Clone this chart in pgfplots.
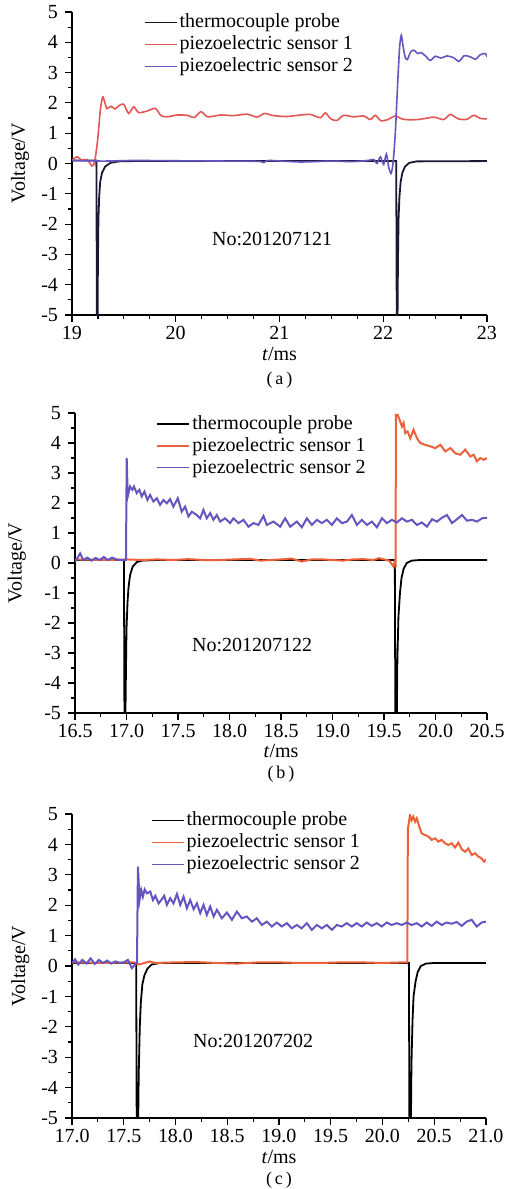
\documentclass[border=0pt]{standalone}
\usepackage{fontspec}
\setmainfont{Liberation Serif}
\usepackage{pgfplots}
\pgfplotsset{compat=1.18}
\definecolor{tcblack}{RGB}{25,25,50}
\definecolor{pzred}{RGB}{226,86,86}
\definecolor{pzorange}{RGB}{236,96,58}
\definecolor{pzblue}{RGB}{100,86,192}
\pgfplotsset{
 myax/.style={
  scale only axis, clip mode=individual,
  axis x line*=bottom, axis y line*=left,
  ymin=-5, ymax=5, ytick={-5,-4,...,5}, yticklabels={-5,-4,-3,-2,-1,0,1,2,3,4,5},
  minor y tick num=1,
  tick align=outside,
  major tick length=3.5pt, minor tick length=2pt,
  every tick/.style={line width=0.6pt, black},
  axis line style={line width=0.7pt},
  tick label style={font=\fontsize{10}{12}\selectfont},
  xticklabel style={inner ysep=1pt, yshift=-1pt},
  label style={font=\fontsize{10}{12}\selectfont, inner sep=0pt},
  ylabel={Voltage/V},
  xlabel={\textit{t}/ms},
  legend style={draw=none, fill=none, anchor=north west, inner sep=0pt,
    font=\fontsize{10}{10}\selectfont, row sep=-1.5pt,
    nodes={inner xsep=1.2pt, inner ysep=2pt}},
  legend image code/.code={\draw[#1, line width=0.6pt] (0pt,0pt) -- (16pt,0pt);},
  legend cell align=left,
  every axis plot/.append style={line width=0.8pt},
 }
}
\begin{document}
\begin{tikzpicture}
\path[use as bounding box] (0,0) rectangle (254pt,-594.5pt);
% ---------------- (a)
\begin{axis}[myax, at={(36pt,-157.5pt)}, anchor=south west,
  width=207.5pt, height=151.5pt,
  xmin=19, xmax=23, xtick={19,20,21,22,23}, xticklabels={19,20,21,22,23},
  minor x tick num=3,
  ylabel style={at={(axis description cs:-0.125,0.5)}, anchor=center},
  xlabel style={at={(axis description cs:0.5,0)}, anchor=center, yshift=-19.5pt},
  legend style={at={(axis cs:19.69,5.08)}},
]
\addplot[tcblack, line width=0.9pt] coordinates {(19,0.1) (19.235,0.1) (19.24,-5) (19.247,-5) (19.25,-3.2) (19.255,-1.8) (19.262,-1.1) (19.272,-0.6) (19.29,-0.3) (19.32,-0.1) (19.37,0.02) (19.45,0.07) (19.6,0.08) (22.125,0.08) (22.13,-5) (22.138,-5) (22.142,-3.2) (22.148,-1.8) (22.156,-1.1) (22.168,-0.6) (22.185,-0.3) (22.21,-0.1) (22.25,0.02) (22.32,0.07) (23,0.08)};
\addlegendentry{thermocouple probe}
\addplot[pzred, smooth, tension=0.4] coordinates {(19.000,0.11) (19.048,0.22) (19.096,0.11) (19.145,0.13) (19.193,-0.08) (19.218,0.05) (19.247,0.77) (19.273,1.76) (19.296,2.20) (19.315,2.03) (19.337,1.81) (19.376,1.89) (19.414,1.80) (19.453,1.91) (19.498,1.96) (19.546,1.65) (19.594,1.87) (19.643,1.68) (19.723,1.73) (19.803,1.82) (19.858,1.58) (19.916,1.54) (20.012,1.60) (20.108,1.59) (20.179,1.52) (20.243,1.71) (20.308,1.54) (20.430,1.60) (20.558,1.58) (20.687,1.63) (20.783,1.53) (20.854,1.65) (20.944,1.58) (21.072,1.55) (21.201,1.60) (21.297,1.62) (21.394,1.51) (21.442,1.67) (21.496,1.47) (21.554,1.42) (21.618,1.59) (21.715,1.54) (21.811,1.57) (21.875,1.45) (21.924,1.59) (21.978,1.41) (22.043,1.45) (22.116,1.57) (22.181,1.47) (22.261,1.44) (22.357,1.46) (22.486,1.53) (22.582,1.45) (22.647,1.62) (22.727,1.47) (22.807,1.46) (22.872,1.59) (22.936,1.49) (23.000,1.47)};
\addlegendentry{piezoelectric sensor 1}
\addplot[pzblue, smooth, tension=0.4] coordinates {(19,0.1) (19.3,0.08) (19.6,0.1) (20.0,0.09) (20.5,0.08) (20.8,0.07) (20.85,0.03) (20.9,0.1) (21.2,0.05) (21.5,0.08) (21.7,0.06) (21.85,0.1) (21.908,0.13) (21.940,0.00) (21.972,0.22) (22.004,-0.03) (22.030,0.31) (22.052,-0.11) (22.075,-0.33) (22.094,0.00) (22.116,0.99) (22.139,2.64) (22.158,3.85) (22.174,4.23) (22.190,3.90) (22.210,3.52) (22.232,3.43) (22.264,3.68) (22.296,3.74) (22.332,3.63) (22.367,3.66) (22.409,3.54) (22.454,3.40) (22.502,3.54) (22.557,3.48) (22.614,3.55) (22.679,3.49) (22.730,3.37) (22.781,3.56) (22.839,3.52) (22.888,3.44) (22.936,3.59) (22.984,3.63) (23.000,3.52)};
\addlegendentry{piezoelectric sensor 2}
\node[font=\fontsize{10}{12}\selectfont] at (axis cs:20.93,-2.5) {No:201207121};
\node[font=\fontsize{9}{11}\selectfont, inner sep=0pt] at (axis description cs:0.5,0) [yshift=-32.5pt] {(\,a\,)};
\end{axis}
% ---------------- (b)
\begin{axis}[myax, at={(37.5pt,-356.5pt)}, anchor=south west,
  width=206pt, height=150pt,
  xmin=16.5, xmax=20.5, xtick={16.5,17,...,20.5}, xticklabels={16.5,17.0,17.5,18.0,18.5,19.0,19.5,20.0,20.5},
  minor x tick num=1,
  ylabel style={at={(axis description cs:-0.141,0.5)}, anchor=center},
  xlabel style={at={(axis description cs:0.5,0)}, anchor=center, yshift=-19pt},
  legend style={at={(axis cs:17.29,5.06)}},
]
\addplot[black, line width=0.9pt] coordinates {(16.5,0.1) (16.975,0.1) (16.98,-5) (16.99,-5) (16.995,-3.5) (17.0,-2.2) (17.01,-1.3) (17.02,-0.8) (17.035,-0.4) (17.06,-0.12) (17.1,0.03) (17.15,0.08) (17.3,0.1) (19.605,0.1) (19.61,-5) (19.625,-5) (19.63,-3.2) (19.64,-1.8) (19.655,-1.0) (19.67,-0.5) (19.69,-0.2) (19.72,0.0) (19.77,0.08) (19.85,0.1) (20.5,0.1)};
\addlegendentry{thermocouple probe}
\addplot[pzorange, line width=1pt] coordinates {(16.5,0.12) (16.8,0.1) (17.0,0.12) (17.15,0.1) (17.3,0.12) (17.45,0.1) (17.6,0.13) (17.75,0.1) (17.9,0.1) (18.05,0.12) (18.2,0.14) (18.3,0.08) (18.4,0.1) (18.5,0.12) (18.6,0.15) (18.7,0.05) (18.8,0.12) (18.9,0.12) (19.0,0.1) (19.1,0.08) (19.2,0.12) (19.3,0.13) (19.4,0.1) (19.45,0.16) (19.55,0.08) (19.593,-0.12) (19.605,0.05) (19.612,0.0) (19.616,4.94) (19.632,4.94) (19.651,4.78) (19.674,4.55) (19.690,4.67) (19.706,4.33) (19.729,4.39) (19.755,4.16) (19.787,4.44) (19.820,4.16) (19.852,4.00) (19.901,3.94) (19.949,3.89) (19.998,3.83) (20.047,3.94) (20.095,3.72) (20.144,3.83) (20.192,3.66) (20.241,3.61) (20.289,3.78) (20.338,3.55) (20.371,3.61) (20.403,3.39) (20.435,3.50) (20.468,3.44) (20.500,3.50)};
\addlegendentry{piezoelectric sensor 1}
\addplot[pzblue, line width=1pt] coordinates {(16.5,0.05) (16.52,0.15) (16.55,0.32) (16.58,0.1) (16.62,0.18) (16.66,0.08) (16.7,0.17) (16.74,0.1) (16.78,0.2) (16.82,0.1) (16.86,0.18) (16.9,0.12) (16.95,0.1) (16.995,0.1) (17.002,3.50) (17.012,2.22) (17.034,2.55) (17.057,2.44) (17.073,2.55) (17.099,2.33) (17.125,2.44) (17.148,2.22) (17.174,2.38) (17.203,2.10) (17.229,2.27) (17.261,2.05) (17.294,2.16) (17.326,1.94) (17.358,2.10) (17.391,1.99) (17.423,2.13) (17.455,1.88) (17.498,2.16) (17.536,1.71) (17.569,1.88) (17.601,1.55) (17.634,1.71) (17.682,1.60) (17.715,1.49) (17.747,1.77) (17.779,1.49) (17.812,1.66) (17.844,1.44) (17.877,1.60) (17.909,1.38) (17.957,1.49) (18.006,1.33) (18.038,1.49) (18.087,1.33) (18.136,1.44) (18.184,1.21) (18.233,1.33) (18.281,1.27) (18.330,1.57) (18.362,1.27) (18.427,1.38) (18.492,1.21) (18.540,1.49) (18.589,1.21) (18.654,1.38) (18.702,1.19) (18.751,1.49) (18.800,1.27) (18.848,1.44) (18.897,1.33) (18.945,1.44) (18.994,1.27) (19.042,1.49) (19.091,1.33) (19.140,1.38) (19.188,1.60) (19.237,1.27) (19.285,1.44) (19.334,1.27) (19.383,1.38) (19.431,1.19) (19.480,1.49) (19.528,1.33) (19.577,1.44) (19.625,1.35) (19.674,1.49) (19.723,1.38) (19.771,1.44) (19.820,1.27) (19.868,1.35) (19.917,1.21) (19.966,1.46) (20.014,1.38) (20.063,1.51) (20.111,1.60) (20.160,1.33) (20.208,1.46) (20.257,1.60) (20.306,1.41) (20.354,1.44) (20.403,1.38) (20.451,1.49) (20.500,1.51)};
\addlegendentry{piezoelectric sensor 2}
\node[font=\fontsize{10}{12}\selectfont] at (axis cs:18.22,-2.74) {No:201207122};
\node[font=\fontsize{9}{11}\selectfont, inner sep=0pt] at (axis description cs:0.5,0) [yshift=-30.5pt] {(\,b\,)};
\end{axis}
% ---------------- (c)
\begin{axis}[myax, at={(36pt,-559pt)}, anchor=south west,
  width=207pt, height=152pt,
  xmin=17, xmax=21, xtick={17,17.5,...,21}, xticklabels={17.0,17.5,18.0,18.5,19.0,19.5,20.0,20.5,21.0},
  minor x tick num=1,
  ylabel style={at={(axis description cs:-0.125,0.5)}, anchor=center},
  xlabel style={at={(axis description cs:0.5,0)}, anchor=center, yshift=-19.5pt},
  legend style={at={(axis cs:17.76,5.21)}},
]
\addplot[black, line width=0.9pt] coordinates {(17.0,0.1) (17.62,0.1) (17.625,-5) (17.64,-5) (17.645,-3.5) (17.655,-2) (17.665,-1.2) (17.68,-0.6) (17.7,-0.3) (17.73,-0.08) (17.77,0.05) (17.85,0.1) (20.255,0.1) (20.26,-5) (20.275,-5) (20.28,-3.2) (20.29,-1.8) (20.3,-1.0) (20.32,-0.5) (20.34,-0.2) (20.37,0.0) (20.42,0.08) (20.5,0.1) (21.0,0.1)};
\addlegendentry{thermocouple probe}
\addplot[pzorange, line width=1pt] coordinates {(17.0,0.12) (17.3,0.1) (17.6,0.12) (17.65,0.05) (17.7,0.1) (17.75,0.15) (17.8,0.1) (18.0,0.12) (18.2,0.13) (18.4,0.1) (18.6,0.08) (18.8,0.12) (19.0,0.12) (19.2,0.1) (19.4,0.1) (19.6,0.12) (19.8,0.12) (20.0,0.1) (20.2,0.12) (20.24,0.12) (20.245,4.5) (20.266,4.97) (20.282,4.80) (20.298,4.91) (20.315,4.75) (20.331,4.86) (20.356,4.58) (20.379,4.36) (20.411,4.31) (20.443,4.26) (20.476,4.15) (20.508,4.20) (20.540,4.09) (20.572,4.15) (20.604,4.04) (20.636,3.98) (20.669,4.04) (20.701,3.90) (20.733,4.06) (20.765,3.84) (20.797,3.76) (20.829,3.87) (20.862,3.65) (20.894,3.71) (20.926,3.60) (20.958,3.54) (20.981,3.43) (21.000,3.51)};
\addlegendentry{piezoelectric sensor 1}
\addplot[pzblue, line width=1pt] coordinates {(17.0,0.1) (17.03,0.22) (17.06,0.05) (17.1,0.2) (17.14,0.08) (17.18,0.25) (17.22,0.07) (17.26,0.2) (17.3,0.1) (17.34,0.18) (17.38,0.08) (17.42,0.15) (17.46,0.1) (17.5,0.12) (17.54,0.2) (17.579,-0.07) (17.62,0.1) (17.628,0.1) (17.637,3.27) (17.653,2.17) (17.669,2.50) (17.685,2.28) (17.702,2.52) (17.724,2.39) (17.756,2.45) (17.782,2.17) (17.805,2.31) (17.837,2.06) (17.862,2.17) (17.891,2.31) (17.917,2.01) (17.949,2.23) (17.981,2.06) (18.014,2.37) (18.046,2.01) (18.078,2.28) (18.110,1.90) (18.142,2.17) (18.175,1.87) (18.207,2.06) (18.239,1.74) (18.271,2.01) (18.303,1.68) (18.335,1.96) (18.368,1.63) (18.400,1.85) (18.448,1.57) (18.496,1.76) (18.545,1.52) (18.593,1.79) (18.641,1.57) (18.689,1.63) (18.738,1.46) (18.786,1.57) (18.834,1.35) (18.883,1.46) (18.931,1.30) (18.979,1.43) (19.027,1.30) (19.076,1.41) (19.124,1.24) (19.172,1.35) (19.220,1.24) (19.269,1.41) (19.317,1.19) (19.365,1.35) (19.414,1.24) (19.462,1.35) (19.510,1.19) (19.558,1.35) (19.607,1.30) (19.655,1.41) (19.703,1.30) (19.751,1.41) (19.800,1.30) (19.848,1.43) (19.896,1.32) (19.944,1.41) (19.993,1.30) (20.041,1.43) (20.089,1.35) (20.138,1.41) (20.186,1.35) (20.234,1.43) (20.282,1.35) (20.331,1.41) (20.379,1.30) (20.427,1.43) (20.476,1.32) (20.524,1.46) (20.572,1.35) (20.620,1.43) (20.669,1.39) (20.717,1.45) (20.765,1.32) (20.813,1.46) (20.862,1.52) (20.910,1.30) (20.958,1.43) (21.000,1.46)};
\addlegendentry{piezoelectric sensor 2}
\node[font=\fontsize{10}{12}\selectfont] at (axis cs:18.75,-2.48) {No:201207202};
\node[font=\fontsize{9}{11}\selectfont, inner sep=0pt] at (axis description cs:0.5,0) [yshift=-31pt] {(\,c\,)};
\end{axis}
\end{tikzpicture}
\end{document}
